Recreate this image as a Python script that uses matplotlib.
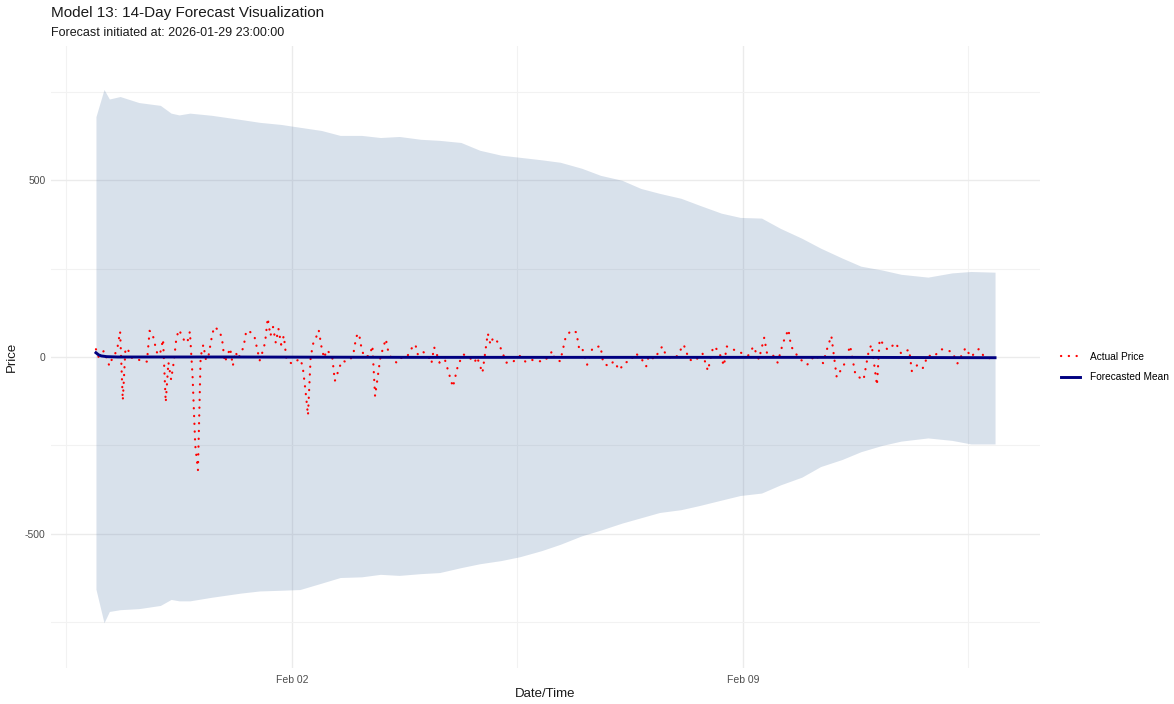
import numpy as np
import matplotlib
matplotlib.use("Agg")
import matplotlib.pyplot as plt
import matplotlib.dates as mdates
from matplotlib.lines import Line2D
from matplotlib.ticker import FixedLocator

plt.rcParams['font.family'] = ['Liberation Sans', 'DejaVu Sans']
plt.rcParams['axes.unicode_minus'] = False

start = np.datetime64('2026-01-29T23:00')
last_hour = 335

# prediction interval (hours after forecast start)
band_hours = [0, 3, 5, 9, 16, 24, 28, 31, 35, 43, 54, 61, 69, 76, 84, 91, 99, 106, 113, 121,
              128, 136, 143, 151, 158, 166, 173, 181, 188, 196, 203, 210, 218, 225, 233, 240,
              248, 255, 263, 270, 278, 285, 293, 300, 310, 319, 326, 335]
band_upper = [680, 757, 730, 737, 720, 712, 690, 685, 690, 684, 672, 664, 658, 650, 641, 627,
              627, 621, 624, 616, 613, 607, 585, 571, 565, 558, 551, 534, 514, 500, 477, 463,
              449, 429, 407, 395, 393, 364, 336, 308, 280, 257, 246, 234, 226, 238, 242, 240]
band_lower = [-657, -752, -720, -715, -712, -703, -686, -690, -690, -680, -668, -662, -660, -658,
              -640, -624, -622, -615, -618, -613, -610, -596, -585, -576, -565, -548, -530, -506,
              -490, -470, -455, -440, -432, -420, -405, -392, -385, -362, -340, -310, -290, -268,
              -250, -238, -229, -236, -246, -246]

mean_hours = [0, 1, 2, 4, 8, 48, 120, 200, 280, 335]
mean_vals = [12, 6, 3, 1, 0, 0, -1, -1, -1, -2]

price_hours = [0, 1, 2, 3, 4, 5, 6, 7, 8, 9, 10, 11, 12, 13, 14, 16, 18, 19, 20, 21, 22, 23, 24,
               25, 26, 27, 28, 29, 30, 31, 32, 33, 34, 35, 36, 37, 38, 39, 40, 41, 42, 43, 44, 46,
               47, 48, 50, 51, 52, 53, 55, 56, 57, 59, 61, 62, 63, 64, 65, 66, 67, 68, 69, 70, 71,
               73, 76, 77, 78, 79, 80, 81, 82, 83, 84, 85, 86, 88, 89, 91, 92, 93, 95, 96, 97, 98,
               99, 100, 102, 103, 104, 106, 108, 109, 110, 112, 113, 116, 117, 119, 120, 122, 124,
               125, 126, 127, 128, 130, 133, 135, 137, 139, 141, 142, 144, 146, 147, 148, 150, 152,
               153, 155, 158, 160, 162, 164, 167, 169, 170, 171, 173, 175, 177, 179, 180, 181, 183,
               185, 188, 189, 191, 193, 195, 197, 199, 201, 203, 205, 206, 208, 211, 212, 213, 216,
               219, 221, 223, 226, 228, 230, 232, 234, 235, 239, 243, 245, 247, 249, 250, 252, 254,
               256, 258, 259, 262, 265, 268, 271, 272, 274, 276, 279, 281, 283, 286, 288, 289, 291,
               292, 295, 298, 300, 303, 304, 306, 308, 310, 312, 315, 319, 321, 324, 326, 329, 331,
               334, 335]
price_vals = [22, 0, 8, 18, -5, -25, -5, 6, 26, 72, -123, 25, 20, 0, -5, -8, -13, -13, 74, 68, 35,
              5, 13, 50, -128, -15, -64, -14, 56, 77, 60, 45, 40, 72, -55, -250, -320, 0, 35, -9,
              6, 50, 85, 75, 50, -15, 25, -25, 15, -5, 28, 74, 74, 60, -10, 13, 40, 110, 60, 85,
              40, 80, 35, 60, -8, -19, -5, -25, -90, -165, 0, 40, 55, 76, 30, -3, 20, 3, -68, -24,
              -10, -14, -4, 13, 58, 67, 22, 0, 4, 32, -111, 0, 51, 12, -2, -16, -4, 1, 19, 36, 5,
              14, 0, -18, 28, 8, -16, -7, -85, -20, 7, 0, -16, 0, -45, 67, 35, 55, 40, 2, -16,
              -16, 3, -13, -7, -12, -12, 5, 17, -7, -12, 56, 75, 70, 25, 29, -22, 25, 31, -17,
              -26, -12, -37, -16, -12, 11, -2, -27, 4, -6, 30, 12, 0, -3, 35, -7, -12, 10, -39,
              30, 18, -25, 30, 16, 4, 30, -7, 55, 12, 8, -16, 40, 78, 30, -4, -22, 6, -18, 13, 60,
              -57, -18, 32, -51, -65, 20, 35, -80, 50, 20, 40, 10, 21, -40, -23, -33, 5, 0, 22,
              15, -18, 26, 0, 23, 0, -5, -2]


def to_time(hours):
    return start + np.array(hours).astype('timedelta64[h]')


fig = plt.figure(figsize=(11.74, 7.04), dpi=100)
ax = fig.add_axes([51 / 1174, 36 / 704, 989 / 1174, 622 / 704])

ax.fill_between(to_time(band_hours), band_lower, band_upper, color='#5F82AE', alpha=0.24,
                linewidth=0, zorder=2)
ax.plot(to_time(price_hours), price_vals, color='#FF0000', lw=1.6, linestyle=(0, (0.1, 3.4)),
        dash_capstyle='round', zorder=3)
ax.plot(to_time(mean_hours), mean_vals, color='#000080', lw=2.1, zorder=4)

# ggplot-style expansion of 5% on x
t0 = mdates.date2num(start)
t1 = mdates.date2num(to_time([last_hour])[0])
pad = 0.05 * (t1 - t0)
ax.set_xlim(t0 - pad, t1 + pad)
ax.set_ylim(-880, 880)

ax.xaxis.set_major_locator(FixedLocator(mdates.date2num(
    [np.datetime64('2026-02-02T00:00'), np.datetime64('2026-02-09T00:00')])))
ax.xaxis.set_minor_locator(FixedLocator(mdates.date2num(
    [np.datetime64('2026-01-29T12:00'), np.datetime64('2026-02-05T12:00'),
     np.datetime64('2026-02-12T12:00')])))
ax.xaxis.set_major_formatter(mdates.DateFormatter('%b %d'))
ax.yaxis.set_major_locator(FixedLocator([-500, 0, 500]))
ax.yaxis.set_minor_locator(FixedLocator([-750, -250, 250, 750]))

ax.grid(True, which='major', color='#EBEBEB', lw=1.0, zorder=0)
ax.grid(True, which='minor', color='#F2F2F2', lw=0.8, zorder=0)
ax.set_axisbelow(True)
for s in ax.spines.values():
    s.set_visible(False)
ax.tick_params(which='both', length=0, labelsize=7.5, labelcolor='#4D4D4D')
ax.tick_params(axis='x', pad=5)
ax.tick_params(axis='y', pad=4)

ax.set_xlabel('Date/Time', fontsize=9.5, color='#1A1A1A', labelpad=2)
ax.set_ylabel('Price', fontsize=9.5, color='#1A1A1A', labelpad=5)

fig.text(51 / 1174, 1 - 13 / 704, 'Model 13: 14-Day Forecast Visualization', fontsize=11,
         color='#1A1A1A', va='center', ha='left')
fig.text(51 / 1174, 1 - 33 / 704, 'Forecast initiated at: 2026-01-29 23:00:00', fontsize=9,
         color='#1A1A1A', va='center', ha='left')

handles = [
    Line2D([], [], color='#FF0000', lw=1.6, linestyle=(0, (0.1, 3.4)), dash_capstyle='round'),
    Line2D([], [], color='#000080', lw=2.1),
]
fig.legend(handles, ['Actual Price', 'Forecasted Mean'], loc='center left',
           bbox_to_anchor=(1052 / 1174, 1 - 367 / 704), frameon=False, fontsize=7.3,
           handlelength=1.9, handletextpad=0.9, labelspacing=1.0)

fig.savefig('out.png', dpi=100)
